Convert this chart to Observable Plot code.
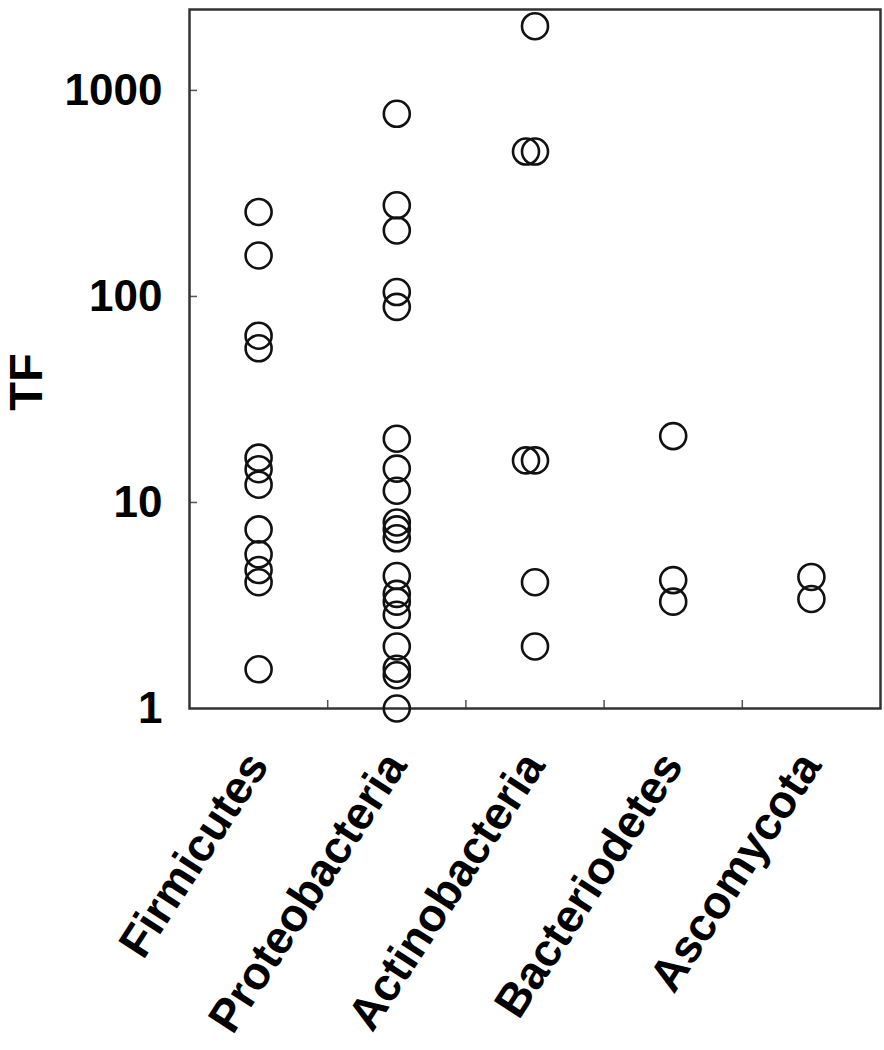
<!DOCTYPE html>
<html><head><meta charset="utf-8">
<script src="https://cdn.jsdelivr.net/npm/d3@7"></script>
<script src="https://cdn.jsdelivr.net/npm/@observablehq/plot@0.6"></script>
<style>body{margin:0;background:#fff}</style>
</head><body><div id="chart"></div>
<script>
const categories = ["Firmicutes", "Proteobacteria", "Actinobacteria", "Bacteriodetes", "Ascomycota"];
const firmicutes = [257, 158, 64.5, 56, 16.5, 14.5, 12.2, 7.4, 5.6, 4.7, 4.1, 1.55];
const proteobacteria = [770, 277, 209, 105, 89, 20.4, 14.6, 11.4, 8.0, 7.4, 6.7, 4.4, 3.6, 3.3, 2.85, 2.0, 1.56, 1.45, 1.0];
const actinobacteria = [2050, 505, 16, 4.1, 2.0];
const actinobacteriaShifted = [505, 16];
const bacteriodetes = [21, 4.2, 3.3];
const ascomycota = [4.35, 3.4];
const yTicks = [1, 10, 100, 1000];

const series = [firmicutes, proteobacteria, actinobacteria, bacteriodetes, ascomycota];
const points = series.flatMap((vals, i) => vals.map(v => ({pos: i + 1, category: categories[i], tf: v})));
const shifted = actinobacteriaShifted.map(v => ({pos: 3, category: categories[2], tf: v}));
const boundaries = categories.slice(1).map((d, i) => i + 1.5);

const W = 884, H = 1040, mL = 189, mR = 4, mT = 9, mB = H - 708;
const frameH = H - mT - mB, frameW = W - mL - mR;
const tickLen = 8;

const chart = Plot.plot({
  width: W, height: H,
  marginLeft: mL, marginRight: mR, marginTop: mT, marginBottom: mB,
  style: {fontFamily: "'Liberation Sans', Arial, sans-serif", background: "white", color: "black"},
  x: {type: "linear", domain: [0.5, 5.5], axis: null},
  y: {type: "log", domain: [1, 2470], axis: null},
  marks: [
    Plot.ruleX(boundaries, {insetTop: frameH - tickLen, stroke: "#555", strokeWidth: 1.5}),
    Plot.ruleY(yTicks.slice(1), {insetRight: frameW - tickLen, stroke: "#555", strokeWidth: 1.5}),
    Plot.frame({stroke: "#333", strokeWidth: 2.5}),
    Plot.dot(points, {x: "pos", y: "tf", r: 13, stroke: "#111", strokeWidth: 2.6, fill: "none"}),
    Plot.dot(shifted, {x: "pos", y: "tf", r: 13, dx: -9, stroke: "#111", strokeWidth: 2.6, fill: "none"}),
    Plot.text(yTicks, {y: d => d, text: d => String(d), frameAnchor: "left", textAnchor: "end", dx: -27, fontSize: 44, fontWeight: "bold"}),
    Plot.text(categories, {x: (d, i) => i + 1, text: d => d, frameAnchor: "bottom", rotate: -57, textAnchor: "end", lineAnchor: "middle", dx: -1, dy: 49, fontSize: 46, fontWeight: "bold"}),
    Plot.text(["TF"], {text: d => d, frameAnchor: "left", textAnchor: "middle", rotate: -90, dx: -163, dy: 23, fontSize: 47, fontWeight: "bold"})
  ]
});
document.getElementById("chart").append(chart);
</script>
</body></html>
